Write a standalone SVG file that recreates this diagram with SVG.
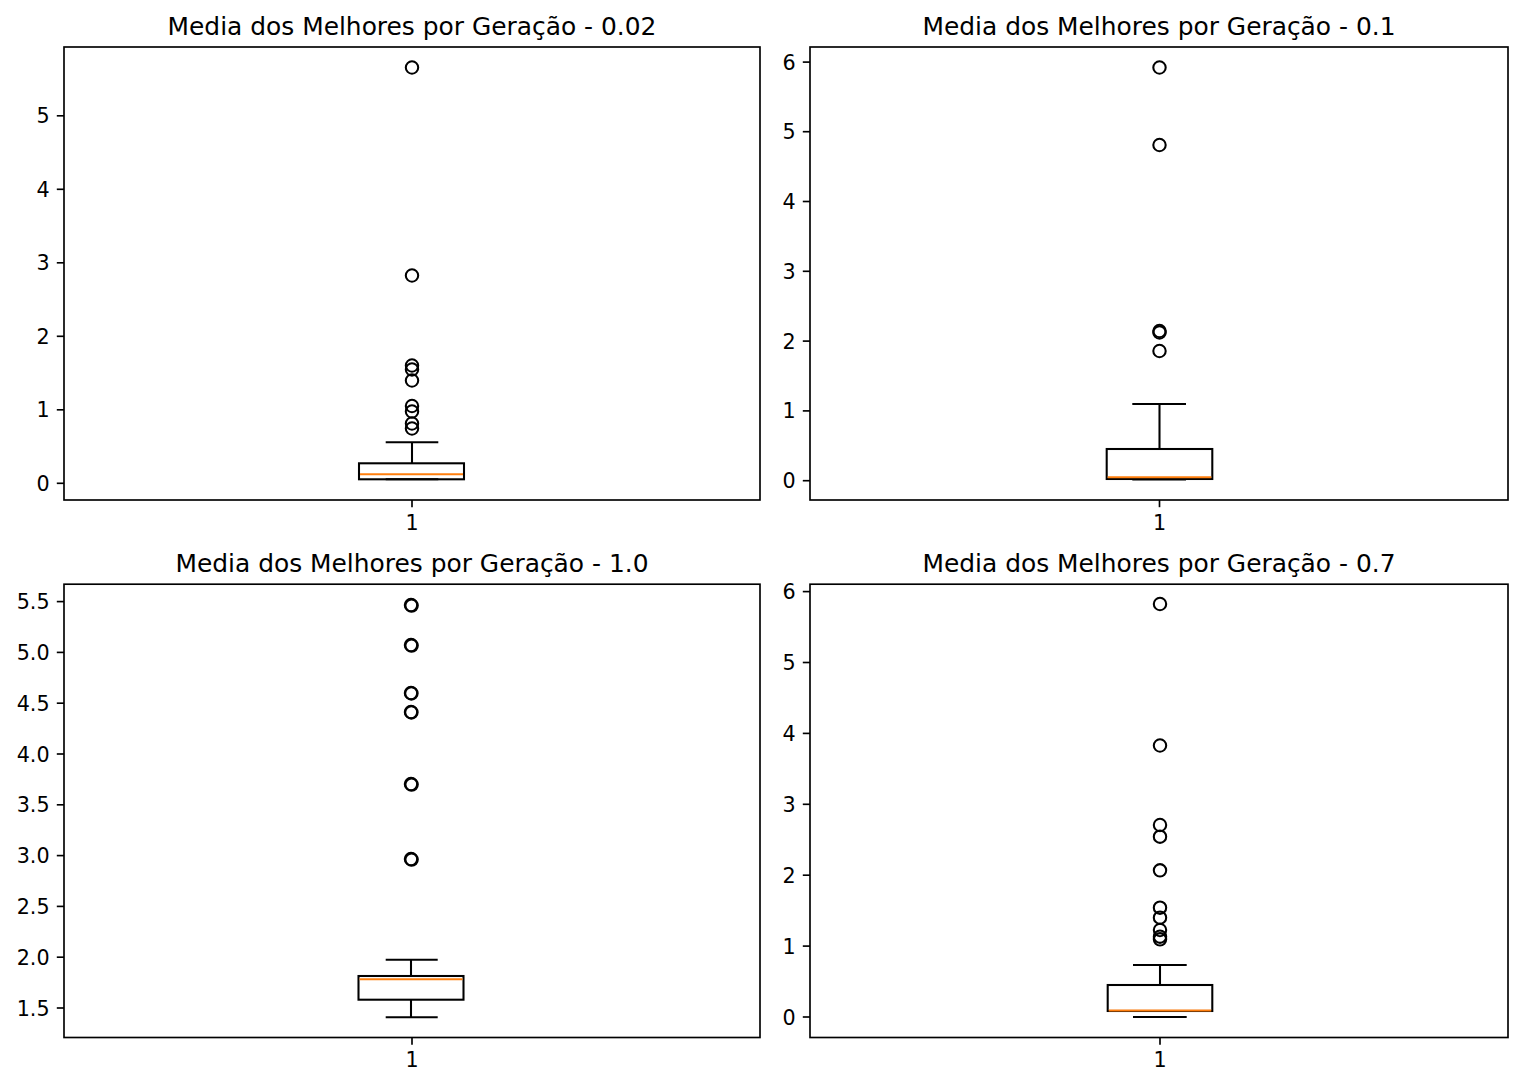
<svg xmlns="http://www.w3.org/2000/svg" width="1523" height="1088" viewBox="0 0 1523 1088">
<style>
text{font-family:"DejaVu Sans","Liberation Sans",sans-serif;fill:#000}
.title{font-size:24.9px;text-anchor:middle}
.yt{font-size:20.7px;text-anchor:end}
.xt{font-size:20.7px;text-anchor:middle}
.frame{fill:none;stroke:#000;stroke-width:1.66}
.tick{stroke:#000;stroke-width:1.66}
.box{fill:none;stroke:#000;stroke-width:2.07}
.med{stroke:#ff7f0e;stroke-width:2.07}
.fl{fill:none;stroke:#000;stroke-width:2.07}
</style>
<rect width="1523" height="1088" fill="#fff"/>

<g id="plot1">
<text class="title" x="412" y="34.5">Media dos Melhores por Geração - 0.02</text>
<rect class="frame" x="64" y="47" width="696" height="453"/>
<g class="tick">
<line x1="56.8" y1="483.3" x2="64" y2="483.3"/><line x1="56.8" y1="409.8" x2="64" y2="409.8"/><line x1="56.8" y1="336.3" x2="64" y2="336.3"/><line x1="56.8" y1="262.8" x2="64" y2="262.8"/><line x1="56.8" y1="189.3" x2="64" y2="189.3"/><line x1="56.8" y1="115.8" x2="64" y2="115.8"/>
<line x1="412" y1="500" x2="412" y2="507.2"/>
</g>
<text class="yt" x="49.6" y="490.8">0</text><text class="yt" x="49.6" y="417.3">1</text><text class="yt" x="49.6" y="343.8">2</text><text class="yt" x="49.6" y="270.3">3</text><text class="yt" x="49.6" y="196.8">4</text><text class="yt" x="49.6" y="123.3">5</text>
<text class="xt" x="412" y="530">1</text>
<g class="box">
<rect x="359" y="463.3" width="105" height="16"/>
<line x1="412" y1="463.3" x2="412" y2="442.3"/>
<line x1="385.7" y1="442.3" x2="438.3" y2="442.3"/>
<line x1="385.7" y1="479.3" x2="438.3" y2="479.3"/>
</g>
<line class="med" x1="360" y1="474.3" x2="463" y2="474.3"/>
<g class="fl">
<circle cx="412" cy="67.5" r="6.2"/><circle cx="412" cy="275.5" r="6.2"/><circle cx="412" cy="365.5" r="6.2"/><circle cx="412" cy="369.5" r="6.2"/><circle cx="412" cy="380.5" r="6.2"/><circle cx="412" cy="406" r="6.2"/><circle cx="412" cy="411.5" r="6.2"/><circle cx="412" cy="423.5" r="6.2"/><circle cx="412" cy="428.5" r="6.2"/>
</g>
</g>

<g id="plot2">
<text class="title" x="1159" y="34.5">Media dos Melhores por Geração - 0.1</text>
<rect class="frame" x="810" y="47" width="698" height="453"/>
<g class="tick">
<line x1="802.8" y1="480.7" x2="810" y2="480.7"/><line x1="802.8" y1="410.9" x2="810" y2="410.9"/><line x1="802.8" y1="341.1" x2="810" y2="341.1"/><line x1="802.8" y1="271.3" x2="810" y2="271.3"/><line x1="802.8" y1="201.5" x2="810" y2="201.5"/><line x1="802.8" y1="131.7" x2="810" y2="131.7"/><line x1="802.8" y1="62.1" x2="810" y2="62.1"/>
<line x1="1159.5" y1="500" x2="1159.5" y2="507.2"/>
</g>
<text class="yt" x="795.6" y="488.2">0</text><text class="yt" x="795.6" y="418.4">1</text><text class="yt" x="795.6" y="348.6">2</text><text class="yt" x="795.6" y="278.8">3</text><text class="yt" x="795.6" y="209">4</text><text class="yt" x="795.6" y="139.2">5</text><text class="yt" x="795.6" y="69.6">6</text>
<text class="xt" x="1159.5" y="530">1</text>
<g class="box">
<rect x="1106.7" y="449" width="105.6" height="30"/>
<line x1="1159.5" y1="449" x2="1159.5" y2="404"/>
<line x1="1132.3" y1="404" x2="1186" y2="404"/>
<line x1="1132.3" y1="479.5" x2="1186" y2="479.5"/>
</g>
<line class="med" x1="1107.7" y1="477.3" x2="1211.3" y2="477.3"/>
<g class="fl">
<circle cx="1159.5" cy="67.5" r="6.2"/><circle cx="1159.5" cy="145" r="6.2"/><circle cx="1159.5" cy="331" r="6.2"/><circle cx="1159.5" cy="332.5" r="6.2"/><circle cx="1159.5" cy="351" r="6.2"/>
</g>
</g>

<g id="plot3">
<text class="title" x="412" y="571.6">Media dos Melhores por Geração - 1.0</text>
<rect class="frame" x="64" y="584.2" width="696" height="453.3"/>
<g class="tick">
<line x1="56.8" y1="1008" x2="64" y2="1008"/><line x1="56.8" y1="957.2" x2="64" y2="957.2"/><line x1="56.8" y1="906.4" x2="64" y2="906.4"/><line x1="56.8" y1="855.6" x2="64" y2="855.6"/><line x1="56.8" y1="804.8" x2="64" y2="804.8"/><line x1="56.8" y1="754" x2="64" y2="754"/><line x1="56.8" y1="703.2" x2="64" y2="703.2"/><line x1="56.8" y1="652.4" x2="64" y2="652.4"/><line x1="56.8" y1="601.6" x2="64" y2="601.6"/>
<line x1="412" y1="1037.5" x2="412" y2="1044.7"/>
</g>
<text class="yt" x="49.6" y="1015.5">1.5</text><text class="yt" x="49.6" y="964.7">2.0</text><text class="yt" x="49.6" y="913.9">2.5</text><text class="yt" x="49.6" y="863.1">3.0</text><text class="yt" x="49.6" y="812.3">3.5</text><text class="yt" x="49.6" y="761.5">4.0</text><text class="yt" x="49.6" y="710.7">4.5</text><text class="yt" x="49.6" y="659.9">5.0</text><text class="yt" x="49.6" y="609.1">5.5</text>
<text class="xt" x="412" y="1067">1</text>
<g class="box">
<rect x="358.5" y="976" width="105" height="23.7"/>
<line x1="411" y1="976" x2="411" y2="959.7"/>
<line x1="385.7" y1="959.7" x2="437.7" y2="959.7"/>
<line x1="411" y1="999.7" x2="411" y2="1017.3"/>
<line x1="385.7" y1="1017.3" x2="437.7" y2="1017.3"/>
</g>
<line class="med" x1="359.5" y1="979.3" x2="462.5" y2="979.3"/>
<g class="fl">
<circle cx="411" cy="605" r="6.2"/><circle cx="411.6" cy="605.6" r="6.2"/><circle cx="411" cy="645" r="6.2"/><circle cx="411.6" cy="645.6" r="6.2"/><circle cx="411" cy="693" r="6.2"/><circle cx="411.4" cy="693.4" r="6.2"/><circle cx="411" cy="712" r="6.2"/><circle cx="411.4" cy="712.4" r="6.2"/><circle cx="411" cy="784" r="6.2"/><circle cx="411.6" cy="784.6" r="6.2"/><circle cx="411" cy="859" r="6.2"/><circle cx="411.6" cy="859.6" r="6.2"/>
</g>
</g>

<g id="plot4">
<text class="title" x="1159" y="571.6">Media dos Melhores por Geração - 0.7</text>
<rect class="frame" x="810" y="584.2" width="698" height="453.3"/>
<g class="tick">
<line x1="802.8" y1="1017" x2="810" y2="1017"/><line x1="802.8" y1="946.1" x2="810" y2="946.1"/><line x1="802.8" y1="875.2" x2="810" y2="875.2"/><line x1="802.8" y1="804.3" x2="810" y2="804.3"/><line x1="802.8" y1="733.4" x2="810" y2="733.4"/><line x1="802.8" y1="662.5" x2="810" y2="662.5"/><line x1="802.8" y1="591.6" x2="810" y2="591.6"/>
<line x1="1160" y1="1037.5" x2="1160" y2="1044.7"/>
</g>
<text class="yt" x="795.6" y="1024.5">0</text><text class="yt" x="795.6" y="953.6">1</text><text class="yt" x="795.6" y="882.7">2</text><text class="yt" x="795.6" y="811.8">3</text><text class="yt" x="795.6" y="740.9">4</text><text class="yt" x="795.6" y="670">5</text><text class="yt" x="795.6" y="599.1">6</text>
<text class="xt" x="1160" y="1067">1</text>
<g class="box">
<rect x="1107.7" y="985" width="104.6" height="26"/>
<line x1="1160" y1="985" x2="1160" y2="965"/>
<line x1="1133" y1="965" x2="1186.7" y2="965"/>
<line x1="1133" y1="1017" x2="1186.7" y2="1017"/>
</g>
<line class="med" x1="1108.7" y1="1010.5" x2="1211.3" y2="1010.5"/>
<g class="fl">
<circle cx="1160" cy="604" r="6.2"/><circle cx="1160" cy="745.5" r="6.2"/><circle cx="1160" cy="825" r="6.2"/><circle cx="1160" cy="836.7" r="6.2"/><circle cx="1160" cy="870.3" r="6.2"/><circle cx="1160" cy="907.7" r="6.2"/><circle cx="1160" cy="917.7" r="6.2"/><circle cx="1160" cy="930" r="6.2"/><circle cx="1160" cy="936.7" r="6.2"/><circle cx="1160" cy="939.3" r="6.2"/>
</g>
</g>
</svg>
